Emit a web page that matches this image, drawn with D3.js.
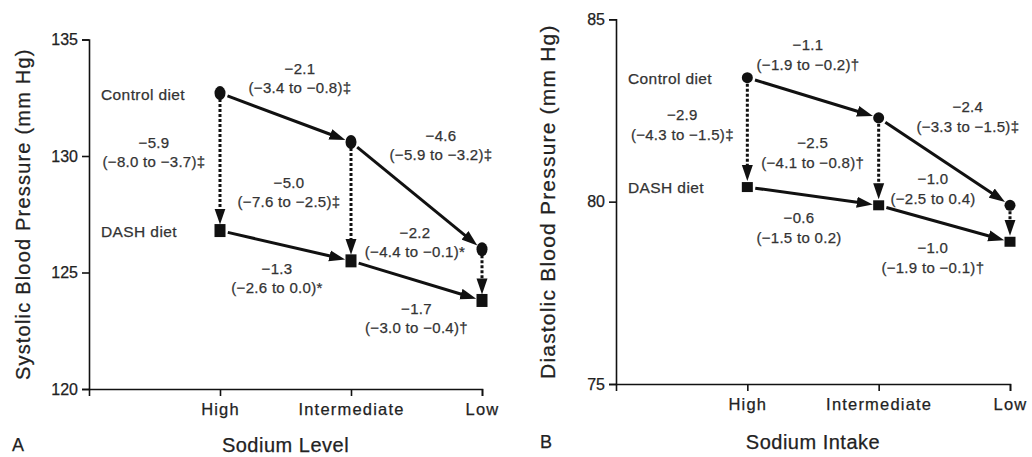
<!DOCTYPE html>
<html>
<head>
<meta charset="utf-8">
<script src="https://cdn.jsdelivr.net/npm/d3@7"></script>
<style>
  body { margin: 0; background: #fff; }
  svg { display: block; font-family: "Liberation Sans", Arial, sans-serif; }
  svg text { stroke: currentColor; stroke-width: 0.25px; }
</style>
</head>
<body>
<svg width="1032" height="457"></svg>
<script>
// sodium levels on the x axis (positions 1..3)
const levels = ['High', 'Intermediate', 'Low'];

// panel A, systolic (mm Hg)
const sbpControl = [132.7, 130.6, 126.0];
const sbpDash = [126.8, 125.5, 123.8];
const sbpTicks = [120, 125, 130, 135];

// panel B, diastolic (mm Hg)
const dbpControl = [83.4, 82.3, 79.9];
const dbpDash = [80.4, 79.9, 78.9];
const dbpTicks = [75, 80, 85];

// annotations, order: control H>I, control I>L, DASH H>I, DASH I>L, then vertical at High, Intermediate, Low
const sbpNotes = [
  ['\u22122.1', '(\u22123.4 to \u22120.8)\u2021'],
  ['\u22124.6', '(\u22125.9 to \u22123.2)\u2021'],
  ['\u22121.3', '(\u22122.6 to 0.0)*'],
  ['\u22121.7', '(\u22123.0 to \u22120.4)\u2020'],
  ['\u22125.9', '(\u22128.0 to \u22123.7)\u2021'],
  ['\u22125.0', '(\u22127.6 to \u22122.5)\u2021'],
  ['\u22122.2', '(\u22124.4 to \u22120.1)*']
];
const dbpNotes = [
  ['\u22121.1', '(\u22121.9 to \u22120.2)\u2020'],
  ['\u22122.4', '(\u22123.3 to \u22121.5)\u2021'],
  ['\u22120.6', '(\u22121.5 to 0.2)'],
  ['\u22121.0', '(\u22121.9 to \u22120.1)\u2020'],
  ['\u22122.9', '(\u22124.3 to \u22121.5)\u2021'],
  ['\u22122.5', '(\u22124.1 to \u22120.8)\u2020'],
  ['\u22121.0', '(\u22122.5 to 0.4)']
];

const svg = d3.select('svg');

// arrow head, tip sits 12px past the line end
svg.append('defs').append('marker')
  .attr('id', 'head')
  .attr('markerUnits', 'userSpaceOnUse')
  .attr('viewBox', '0 0 16 12')
  .attr('refX', 4).attr('refY', 6)
  .attr('markerWidth', 16).attr('markerHeight', 12)
  .attr('orient', 'auto')
  .append('path')
  .attr('d', 'M0,0.5L16,6L0,11.5Z')
  .attr('fill', '#111');

function panel(cfg) {
  const g = svg.append('g');
  const x = d3.scaleLinear().domain([0, 3]).range(cfg.xRange);
  const y = d3.scaleLinear().domain(cfg.yDomain).range(cfg.yRange);

  // y axis
  const ya = g.append('g')
    .attr('transform', 'translate(' + cfg.xRange[0] + ',0)')
    .call(d3.axisLeft(y).tickValues(cfg.ticks).tickSize(7).tickPadding(4));
  ya.selectAll('text').style('font-size', '16px').attr('fill', '#222').style('color', '#222');

  // x axis
  const xa = g.append('g')
    .attr('transform', 'translate(0,' + cfg.yRange[0] + ')')
    .call(d3.axisBottom(x).tickValues([1, 2, 3])
      .tickFormat((d) => levels[d - 1]).tickSize(7).tickPadding(7));
  xa.selectAll('text').style('font-size', '16.5px')
    .style('letter-spacing', '1.2px').attr('fill', '#222').style('color', '#222');
  g.selectAll('.domain, .tick line').attr('stroke', '#111').attr('stroke-width', 1.6);

  // axis titles
  const midX = (cfg.xRange[0] + cfg.xRange[1]) / 2;
  g.append('text')
    .attr('x', midX).attr('y', cfg.xTitleY)
    .attr('text-anchor', 'middle').attr('dy', '0.35em')
    .style('font-size', '20px').style('letter-spacing', '0.5px')
    .attr('fill', '#222').style('color', '#222')
    .text(cfg.xTitle);
  g.append('text')
    .attr('transform', 'translate(' + cfg.yTitleX + ',' + (cfg.yRange[0] + cfg.yRange[1]) / 2 + ') rotate(-90)')
    .attr('text-anchor', 'middle').attr('dy', '0.35em')
    .style('font-size', cfg.yTitleSize + 'px').style('letter-spacing', '1.2px')
    .attr('fill', '#222').style('color', '#222')
    .text(cfg.yTitle);
  g.append('text')
    .attr('x', cfg.letterX).attr('y', cfg.xTitleY)
    .attr('dy', '0.35em')
    .style('font-size', '18px')
    .attr('fill', '#222').style('color', '#222')
    .text(cfg.letter);

  // diet labels next to the High points
  [['Control diet', cfg.control[0]], ['DASH diet', cfg.dash[0]]].forEach((d) => {
    g.append('text')
      .attr('x', cfg.xRange[0] + 12).attr('y', y(d[1]) + 1)
      .attr('dy', '0.35em')
      .style('font-size', '15.5px').style('letter-spacing', '0.4px')
      .attr('fill', '#333').style('color', '#333')
      .text(d[0]);
  });

  // segments built from the data
  const segs = [];
  [cfg.control, cfg.dash].forEach((s) => {
    for (let i = 0; i < 2; i++) {
      segs.push({ a: [x(i + 1), y(s[i])], b: [x(i + 2), y(s[i + 1])], dashed: false, g0: 8, g1: 6 });
    }
  });
  for (let i = 0; i < 3; i++) {
    segs.push({ a: [x(i + 1), y(cfg.control[i])], b: [x(i + 1), y(cfg.dash[i])], dashed: true, g0: 6, g1: 6 });
  }

  segs.forEach((s, i) => {
    const dx = s.b[0] - s.a[0], dy = s.b[1] - s.a[1];
    const len = Math.sqrt(dx * dx + dy * dy);
    const ux = dx / len, uy = dy / len;
    const sx = s.a[0] + ux * s.g0, sy = s.a[1] + uy * s.g0;
    const ex = s.b[0] - ux * (s.g1 + 12), ey = s.b[1] - uy * (s.g1 + 12);
    g.append('line')
      .attr('x1', sx).attr('y1', sy).attr('x2', ex).attr('y2', ey)
      .attr('stroke', '#111')
      .attr('stroke-width', 3)
      .attr('stroke-dasharray', s.dashed ? '3,2' : null)
      .attr('marker-end', 'url(#head)');

    // annotation, offsets relative to segment middle
    const mx = (s.a[0] + s.b[0]) / 2, my = (s.a[1] + s.b[1]) / 2;
    const off = cfg.offsets[i];
    const note = cfg.notes[i];
    [note[0], note[1]].forEach((t, k) => {
      g.append('text')
        .attr('x', mx + off[0]).attr('y', my + off[1] - (k === 0 ? cfg.lineGap : 0))
        .attr('text-anchor', 'middle').attr('dy', '0.35em')
        .style('font-size', '15px').style('letter-spacing', '0.3px')
        .attr('fill', '#333').style('color', '#333')
        .text(t);
    });
  });

  // markers
  g.selectAll('ellipse.ctl').data(cfg.control).enter().append('ellipse')
    .attr('cx', (d, i) => x(i + 1)).attr('cy', (d) => y(d))
    .attr('rx', 5.5).attr('ry', cfg.ry).attr('fill', '#111');
  g.selectAll('rect.dash').data(cfg.dash).enter().append('rect')
    .attr('x', (d, i) => x(i + 1) - 5.5).attr('y', (d) => y(d) - cfg.sq / 2)
    .attr('width', 11).attr('height', cfg.sq).attr('fill', '#111');
}

panel({
  xRange: [89, 482], yDomain: [120, 135], yRange: [389, 39.5], ticks: sbpTicks,
  control: sbpControl, dash: sbpDash, notes: sbpNotes,
  offsets: [[14.5, -30], [24.5, -41], [-8.5, 42], [0, 47], [-66, 0], [-62, 0], [-67, -23]],
  lineGap: 19, ry: 7, sq: 13,
  xTitle: 'Sodium Level', xTitleY: 445,
  yTitle: 'Systolic Blood Pressure (mm Hg)', yTitleX: 23, yTitleSize: 20,
  letter: 'A', letterX: 12
});

panel({
  xRange: [616, 1010], yDomain: [75, 85], yRange: [384, 19.3], ticks: dbpTicks,
  control: dbpControl, dash: dbpDash, notes: dbpNotes,
  offsets: [[-5, -33], [23.5, -35], [-14, 42], [-11.5, 44], [-65, 2], [-66, 1], [-77, -25]],
  lineGap: 20, ry: 5.5, sq: 10,
  xTitle: 'Sodium Intake', xTitleY: 442,
  yTitle: 'Diastolic Blood Pressure (mm Hg)', yTitleX: 548, yTitleSize: 21,
  letter: 'B', letterX: 540
});
</script>
</body>
</html>
